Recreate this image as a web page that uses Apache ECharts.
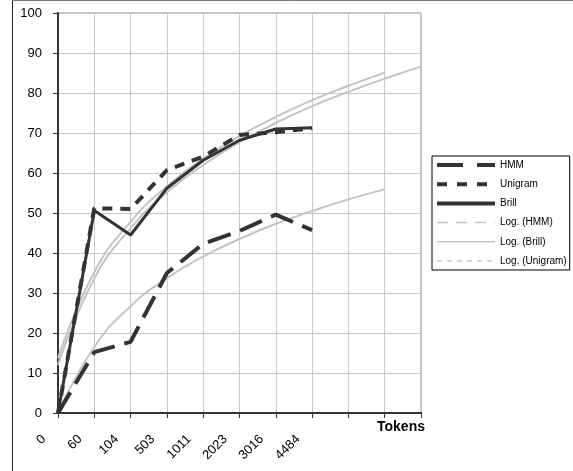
<!DOCTYPE html>
<html>
<head>
<meta charset="utf-8">
<script src="https://cdn.jsdelivr.net/npm/echarts@6/dist/echarts.min.js"></script>
<style>
html,body{margin:0;padding:0;background:#fff;}
#chart{width:573px;height:471px;}
</style>
</head>
<body>
<div id="chart"></div>
<script>
// Category labels (x axis)
var categories = ['0', '60', '104', '503', '1011', '2023', '3016', '4484', '', '', ''];
var yTicks = [0, 10, 20, 30, 40, 50, 60, 70, 80, 90, 100];

// Series values
var hmm     = [0, 15.2, 17.8, 35, 42.3, 45.5, 49.6, 45.7];
var unigram = [0, 51.2, 51.0, 60.7, 64.1, 69.5, 70.2, 71.2];
var brill   = [0, 50.6, 44.5, 56.2, 63.2, 68.2, 71.0, 71.3];

// Logarithmic trend lines (values read at each category)
var logHMM     = [0, 16.5, 26.7, 33.7, 39.1, 43.5, 47.3, 50.5, 53.4, 55.9, null];
var logBrill   = [12, 33.6, 46.2, 55.1, 62.0, 67.7, 72.5, 76.7, 80.3, 83.6, 86.6];
var logUnigram = [13.7, 35.2, 47.8, 56.7, 63.6, 69.2, 74.0, 78.2, 81.8, 85.1, null];

var FONT = '"Liberation Sans", Arial, sans-serif';
var chart = echarts.init(document.getElementById('chart'), null, {renderer: 'canvas'});

function line(name, data, color, width, type, smooth, z) {
  return {
    name: name, type: 'line', data: data, symbol: 'none', smooth: smooth,
    connectNulls: false, z: z,
    lineStyle: {color: color, width: width, type: type, cap: 'butt'},
    itemStyle: {color: color},
    emphasis: {disabled: true},
    animation: false
  };
}
function legendItem(name, color, width, type) {
  return {name: name, itemStyle: {opacity: 0}, lineStyle: {color: color, width: width, type: type, opacity: 1}};
}

chart.setOption({
  animation: false,
  backgroundColor: '#fff',
  textStyle: {fontFamily: FONT},
  graphic: [
    {type: 'line', shape: {x1: 12.5, y1: 0, x2: 12.5, y2: 471}, style: {stroke: '#222', lineWidth: 1}},
    {type: 'line', shape: {x1: 12, y1: 0.5, x2: 573, y2: 0.5}, style: {stroke: '#777', lineWidth: 1}}
  ],
  grid: {left: 58, right: 152, top: 13, bottom: 58, show: true, borderColor: '#888', borderWidth: 1},
  legend: {
    orient: 'vertical', left: 432, top: 156,
    padding: [4, 3, 4, 3], itemWidth: 58, itemHeight: 10, itemGap: 9.2,
    borderColor: '#000', borderWidth: 1, backgroundColor: '#fff',
    itemStyle: {opacity: 0},
    textStyle: {fontFamily: FONT, fontSize: 10, color: '#000'},
    data: [
      legendItem('HMM', '#333', 4, [26, 14]),
      legendItem('Unigram', '#333', 4, [10, 10]),
      legendItem('Brill', '#333', 4, 'solid'),
      legendItem('Log. (HMM)', '#c4c4c4', 1.5, [11, 8]),
      legendItem('Log. (Brill)', '#c4c4c4', 1.5, 'solid'),
      legendItem('Log. (Unigram)', '#c4c4c4', 1.5, [5, 5])
    ]
  },
  xAxis: {
    type: 'category', data: categories, boundaryGap: false,
    name: 'Tokens', nameLocation: 'end', nameGap: -20, nameMoveOverlap: false,
    nameTextStyle: {fontFamily: FONT, fontSize: 14, fontWeight: 'bold', color: '#000', align: 'center', verticalAlign: 'top', padding: [7, 0, 0, 0]},
    axisLine: {lineStyle: {color: '#333', width: 2}},
    axisTick: {show: true, inside: false, length: 5, alignWithLabel: true, interval: 0, lineStyle: {color: '#333', width: 1}},
    axisLabel: {interval: 0, rotate: 45, margin: 10, padding: [0, 20, 0, 0], fontFamily: FONT, fontSize: 13, color: '#000'},
    splitLine: {show: true, interval: 0, lineStyle: {color: '#c8c8c8', width: 1}}
  },
  yAxis: {
    type: 'value', min: yTicks[0], max: yTicks[yTicks.length - 1], interval: 10,
    axisLine: {show: true, lineStyle: {color: '#333', width: 2}},
    axisTick: {show: true, inside: false, length: 5, lineStyle: {color: '#333', width: 1}},
    axisLabel: {margin: 16, fontFamily: FONT, fontSize: 13, color: '#000'},
    splitLine: {show: true, lineStyle: {color: '#c8c8c8', width: 1}}
  },
  series: [
    line('HMM', hmm, '#333', 4, [24, 10], false, 5),
    line('Unigram', unigram, '#333', 4, [10, 8], false, 5),
    line('Brill', brill, '#333', 3, 'solid', false, 5),
    line('Log. (HMM)', logHMM, '#c4c4c4', 2, 'solid', true, 3),
    line('Log. (Brill)', logBrill, '#c4c4c4', 2, 'solid', true, 3),
    line('Log. (Unigram)', logUnigram, '#c4c4c4', 2, 'solid', true, 3)
  ]
});
</script>
</body>
</html>
